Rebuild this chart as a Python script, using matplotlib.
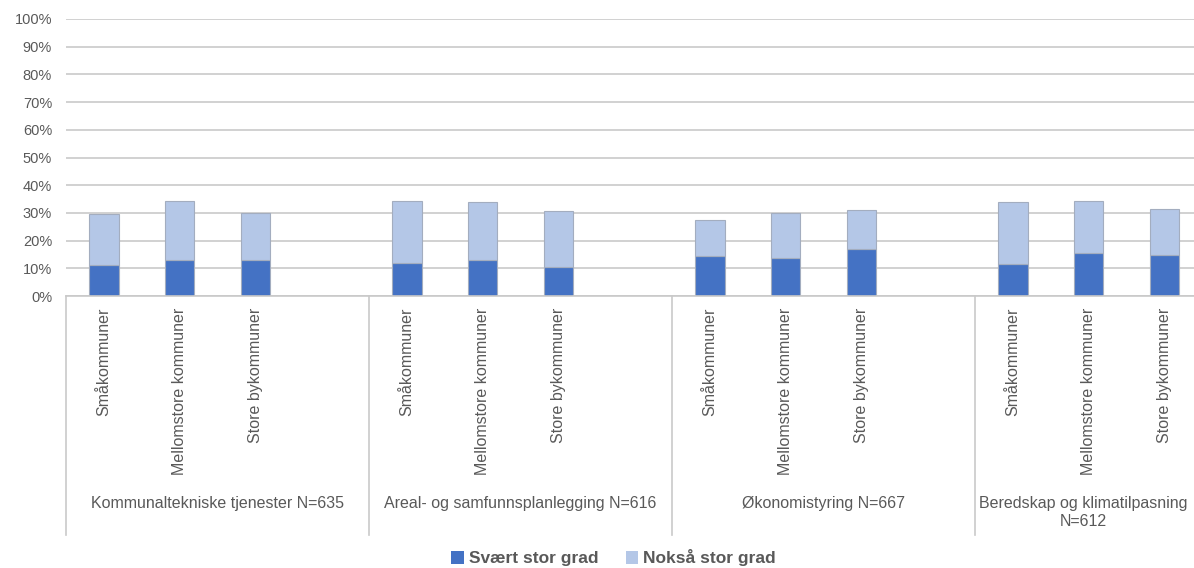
import numpy as np
import matplotlib.pyplot as plt

plt.rcParams['font.family'] = ['Liberation Sans', 'DejaVu Sans']

groups = ["Kommunaltekniske tjenester N=635",
          "Areal- og samfunnsplanlegging N=616",
          "Økonomistyring N=667",
          "Beredskap og klimatilpasning\nN=612"]
sizes = ["Småkommuner", "Mellomstore kommuner", "Store bykommuner"]
# andel i prosent, lest av figuren
svaert = [11.1, 13.1, 13.1,
          12.0, 12.9, 10.4,
          14.3, 13.8, 17.1,
          11.6, 15.6, 14.7]
total = [29.6, 34.2, 29.9,
         34.2, 33.8, 30.6,
         27.3, 29.9, 30.9,
         33.8, 34.2, 31.3]
noksaa = [t - s for t, s in zip(total, svaert)]

dark = '#4472C4'
light = '#B4C7E7'
txt = '#595959'

fig = plt.figure(figsize=(11.94, 5.68), dpi=100)
ax = fig.add_axes([66/1194, 1-296/568, 1-66/1194, 277/568])

# 4 plasser per gruppe, den siste er tom
x = np.array([g*4 + i for g in range(4) for i in range(3)])
sv = np.array(svaert)/100
nk = np.array(noksaa)/100
ax.bar(x, sv, width=0.39, color=dark, edgecolor='#A3ADBF', lw=0.8, label='Svært stor grad', zorder=3)
ax.bar(x, nk, bottom=sv, width=0.39, color=light, edgecolor='#A3ADBF', lw=0.8, label='Nokså stor grad', zorder=3)

ax.set_xlim(-0.5, 14.39)
ax.set_ylim(0, 1)
ax.set_yticks(np.arange(0, 1.01, 0.1))
ax.set_yticklabels([f"{int(v)}%" for v in np.arange(0, 101, 10)])
ax.tick_params(axis='y', length=0, labelsize=10.5, labelcolor=txt, pad=10)
ax.set_xticks([])
ax.grid(axis='y', color='#C9C9C9', lw=1.2, zorder=0)
for s in ['top', 'right', 'left']:
    ax.spines[s].set_visible(False)
ax.spines['bottom'].set_color('#C9C9C9')
ax.spines['bottom'].set_linewidth(1.2)
ax.spines['bottom'].set_zorder(4)

trans = ax.get_xaxis_transform()
for xi, i in zip(x, range(len(x))):
    ax.text(xi, -0.043, sizes[i % 3], rotation=90, ha='center', va='top',
            fontsize=11.5, color=txt, transform=trans, clip_on=False)

for b in [-0.5, 3.5, 7.5, 11.5]:
    ax.plot([b, b], [0, -0.863], color='#C9C9C9', lw=1.2, transform=trans, clip_on=False)

gx = [1.5, 5.5, 9.5, 12.93]
for g, name in enumerate(groups):
    ax.text(gx[g], -0.722, name, ha='center', va='top', fontsize=11.5, color=txt,
            transform=trans, clip_on=False, linespacing=1.25)

leg = fig.legend(loc='center', bbox_to_anchor=(0.514, 1-558/568), ncol=2, frameon=False,
                 handlelength=0.7, handleheight=0.7, handletextpad=0.3, columnspacing=1.6,
                 prop={'weight': 'bold', 'size': 12.5})
for t in leg.get_texts():
    t.set_color(txt)
for h in leg.legend_handles:
    h.set_edgecolor('none')

fig.savefig('out.png', dpi=100)
